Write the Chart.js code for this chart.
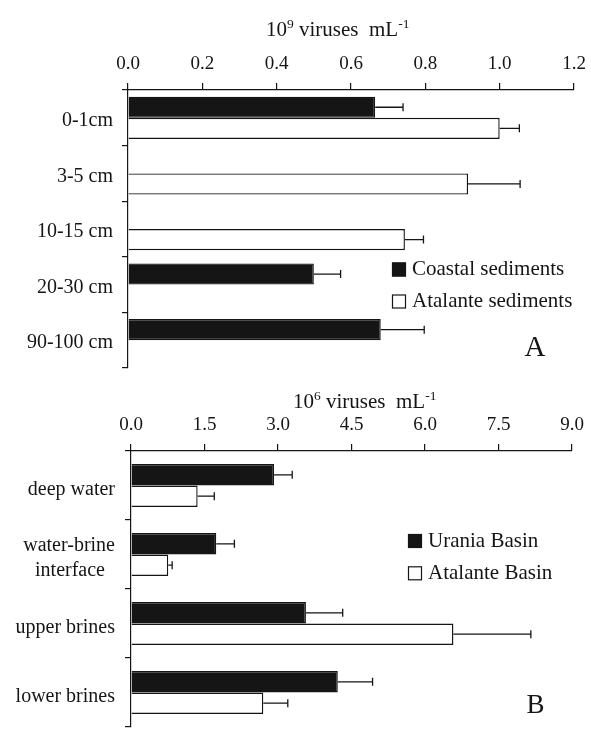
<!DOCTYPE html>
<html>
<head>
<meta charset="utf-8">
<script src="https://cdn.jsdelivr.net/npm/chart.js@4.4.1/dist/chart.umd.min.js"></script>
<style>
  html, body { margin: 0; padding: 0; background: #fff; }
  #wrap { position: relative; width: 591px; height: 729px; overflow: hidden; }
  canvas { position: absolute; left: 0; }
</style>
</head>
<body>
<div id="wrap">
  <canvas id="chartA" width="591" height="380" style="top:0"></canvas>
  <canvas id="chartB" width="591" height="349" style="top:380px"></canvas>
</div>
<script>
// panel A: sediments, 10^9 viruses per mL
const depthLabels = ['0-1cm', '3-5 cm', '10-15 cm', '20-30 cm', '90-100 cm'];
const coastalSed = [0.665, null, null, 0.50, 0.68];
const coastalSedErr = [0.075, null, null, 0.072, 0.117];
const atalanteSed = [1.0, 0.915, 0.745, null, null];
const atalanteSedErr = [0.053, 0.14, 0.05, null, null];
const tickValsA = [0.0, 0.2, 0.4, 0.6, 0.8, 1.0, 1.2];

// panel B: deep basins, 10^6 viruses per mL
const waterLabels = ['deep water', ['water-brine', 'interface  '], 'upper brines', 'lower brines'];
const urania = [2.92, 1.74, 3.57, 4.22];
const uraniaErr = [0.37, 0.37, 0.75, 0.71];
const atalanteBasin = [1.36, 0.76, 6.58, 2.70];
const atalanteBasinErr = [0.34, 0.08, 1.58, 0.50];
const tickValsB = [0.0, 1.5, 3.0, 4.5, 6.0, 7.5, 9.0];

const ink = '#151515';
const serif = '"Liberation Serif", "Times New Roman", serif';
Chart.defaults.font.family = serif;
Chart.defaults.color = ink;

const errorBars = {
    id: 'errorBars',
    afterDatasetsDraw(chart) {
        const ctx = chart.ctx;
        const xs = chart.scales.x;
        chart.data.datasets.forEach((ds, i) => {
            chart.getDatasetMeta(i).data.forEach((bar, j) => {
                const v = ds.data[j], e = ds.errors[j];
                if (v == null || e == null) return;
                const x1 = xs.getPixelForValue(v + e);
                ctx.save();
                ctx.strokeStyle = ink;
                ctx.lineWidth = 1.3;
                ctx.beginPath();
                ctx.moveTo(bar.x, bar.y);
                ctx.lineTo(x1, bar.y);
                ctx.moveTo(x1, bar.y - 4);
                ctx.lineTo(x1, bar.y + 4);
                ctx.stroke();
                ctx.restore();
            });
        });
    }
};

const boxLegend = {
    id: 'boxLegend',
    afterDraw(chart, args, o) {
        const ctx = chart.ctx;
        ctx.save();
        chart.data.datasets.forEach((ds, i) => {
            const cy = o.rows[i];
            ctx.fillStyle = ds.backgroundColor;
            ctx.fillRect(o.x, cy - o.box / 2, o.box, o.box);
            ctx.strokeStyle = ink;
            ctx.lineWidth = 1.2;
            ctx.strokeRect(o.x + 0.5, cy - o.box / 2 + 0.5, o.box - 1, o.box - 1);
            ctx.fillStyle = ink;
            ctx.font = o.size + 'px ' + serif;
            ctx.textAlign = 'left';
            ctx.textBaseline = 'middle';
            ctx.fillText(ds.label, o.textX, cy);
        });
        // panel letter
        ctx.font = o.letterSize + 'px ' + serif;
        ctx.textAlign = 'center';
        ctx.fillText(o.letter, o.letterX, o.letterY);
        ctx.restore();
    }
};

const unitTitle = {
    id: 'unitTitle',
    afterDraw(chart, args, o) {
        const ctx = chart.ctx;
        ctx.save();
        ctx.fillStyle = ink;
        ctx.textAlign = 'left';
        ctx.textBaseline = 'alphabetic';
        let x = o.x;
        o.parts.forEach(p => {
            ctx.font = (p.sup ? o.supSize : o.size) + 'px ' + serif;
            ctx.fillText(p.t, x, o.baseline - (p.sup ? o.rise : 0));
            x += ctx.measureText(p.t).width;
        });
        ctx.restore();
    }
};

function makeChart(id, labels, sets, tickVals, cfg) {
    return new Chart(document.getElementById(id), {
        type: 'bar',
        data: {
            labels: labels,
            datasets: sets.map(s => ({
                label: s.label,
                data: s.data,
                errors: s.err,
                backgroundColor: s.fill,
                borderColor: ink,
                borderWidth: 1.4,
                categoryPercentage: cfg.catPct,
                barPercentage: 1.0
            }))
        },
        options: {
            indexAxis: 'y',
            responsive: false,
            animation: false,
            layout: { padding: cfg.padding },
            scales: {
                x: {
                    position: 'top',
                    min: tickVals[0],
                    max: tickVals[tickVals.length - 1],
                    afterBuildTicks: s => { s.ticks = tickVals.map(v => ({ value: v })); },
                    afterFit: s => { s.height = cfg.xHeight; s.paddingLeft = 0; s.paddingRight = 0; },
                    grid: { drawOnChartArea: false, tickLength: 7, color: ink, lineWidth: 1.2 },
                    border: { display: true, color: ink, width: 1.2 },
                    ticks: {
                        padding: 8,
                        maxRotation: 0,
                        autoSkip: false,
                        font: { size: 19 },
                        callback: v => v.toFixed(1)
                    }
                },
                y: {
                    afterFit: s => { s.width = cfg.yWidth; s.paddingTop = 0; s.paddingBottom = 0; },
                    grid: { drawOnChartArea: false, offset: true, tickLength: 6, color: ink, lineWidth: 1.2 },
                    border: { display: true, color: ink, width: 1.2 },
                    ticks: {
                        padding: cfg.labelPad,
                        labelOffset: cfg.labelOffset,
                        font: { size: 20, lineHeight: 1.25 }
                    }
                }
            },
            plugins: {
                legend: { display: false },
                tooltip: { enabled: false },
                boxLegend: cfg.legend,
                unitTitle: cfg.title
            }
        },
        plugins: [errorBars, boxLegend, unitTitle]
    });
}

makeChart('chartA', depthLabels, [
    { label: 'Coastal sediments', data: coastalSed, err: coastalSedErr, fill: ink },
    { label: 'Atalante sediments', data: atalanteSed, err: atalanteSedErr, fill: '#ffffff' }
], tickValsA, {
    padding: { left: 0, right: 17, top: 0, bottom: 12 },
    xHeight: 90,
    yWidth: 128,
    catPct: 0.76,
    labelPad: 9,
    labelOffset: 3,
    legend: { x: 392, box: 14, rows: [269.5, 301.5], textX: 412, size: 21,
              letter: 'A', letterX: 535, letterY: 348, letterSize: 29 },
    title: { x: 266, baseline: 36, size: 21, supSize: 13.5, rise: 8,
             parts: [{ t: '10' }, { t: '9', sup: true }, { t: ' viruses  mL' }, { t: '-1', sup: true }] }
});

makeChart('chartB', waterLabels, [
    { label: 'Urania Basin', data: urania, err: uraniaErr, fill: ink },
    { label: 'Atalante Basin', data: atalanteBasin, err: atalanteBasinErr, fill: '#ffffff' }
], tickValsB, {
    padding: { left: 0, right: 19, top: 0, bottom: 2 },
    xHeight: 71,
    yWidth: 131,
    catPct: 0.62,
    labelPad: 10,
    labelOffset: 4,
    legend: { x: 408, box: 14, rows: [161, 193.3], textX: 428, size: 21,
              letter: 'B', letterX: 535.5, letterY: 326, letterSize: 27 },
    title: { x: 293, baseline: 28, size: 21, supSize: 13.5, rise: 8,
             parts: [{ t: '10' }, { t: '6', sup: true }, { t: ' viruses  mL' }, { t: '-1', sup: true }] }
});
</script>
</body>
</html>
